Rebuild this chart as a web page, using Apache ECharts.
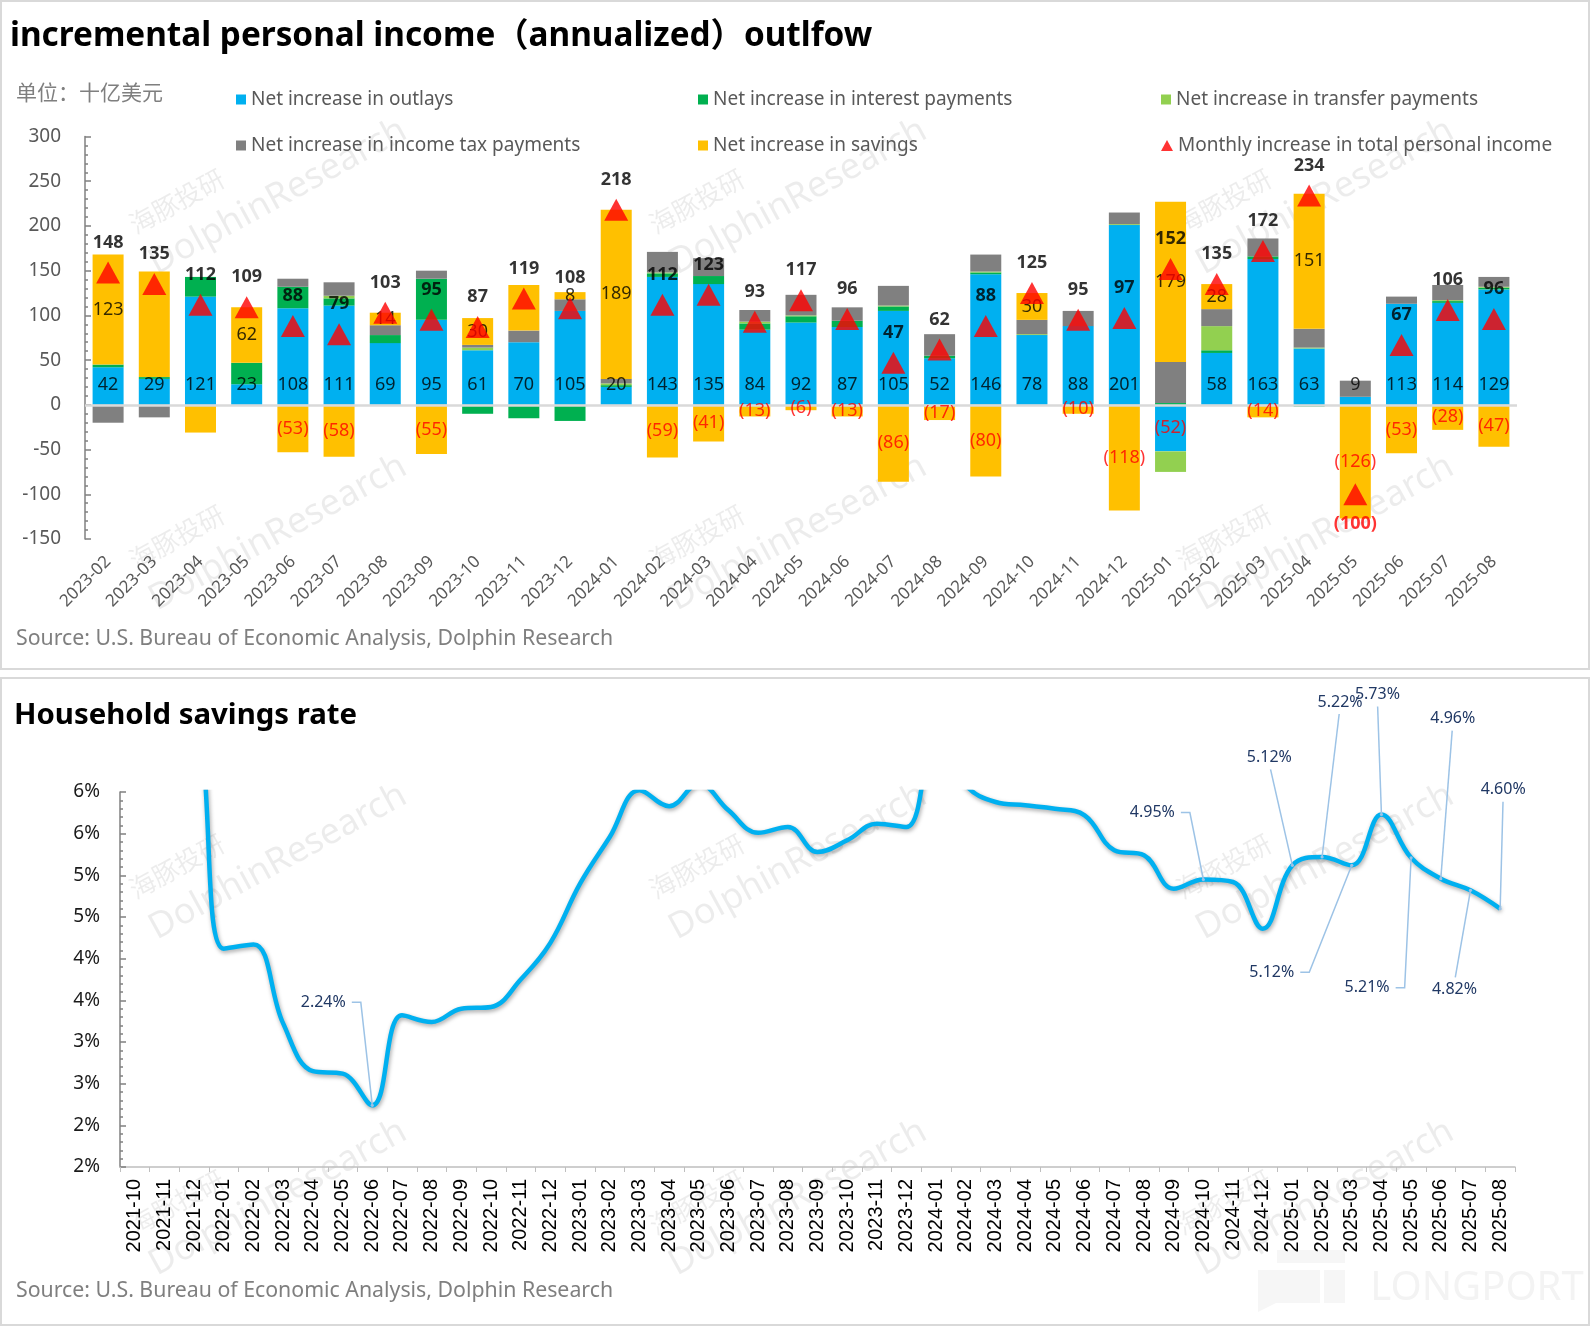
<!DOCTYPE html>
<html>
<head>
<meta charset="utf-8">
<script src="https://cdn.jsdelivr.net/npm/echarts@6.0.0/dist/echarts.min.js"></script>
<style>
html,body{margin:0;padding:0;background:#fff;}
#c{width:1591px;height:1327px;}
</style>
</head>
<body>
<div id="c"></div>
<script>
// ---------- Chart 1 data (billion USD, annualized) ----------
const months = ['2023-02','2023-03','2023-04','2023-05','2023-06','2023-07','2023-08','2023-09','2023-10','2023-11','2023-12',
  '2024-01','2024-02','2024-03','2024-04','2024-05','2024-06','2024-07','2024-08','2024-09','2024-10','2024-11','2024-12',
  '2025-01','2025-02','2025-03','2025-04','2025-05','2025-06','2025-07','2025-08'];
const outlays   = [42,29,121,23,108,111,69,95,61,70,105, 20,143,135,84,92,87,105,52,146,78,88,201, -52,58,163,63,9,113,114,129];
const interest  = [3,2,22,24,24,8,9,46,-10,-15,-18, 2,4,9,7,7,7,5,3,2,0,0,0, 2,3,3,-2,-1,-1,2,2];
const transfer  = [0,0,0,0,0,3,0,0,3,0,0, 2,1,0,2,1,0,1,0,1,1,0,1, -23,27,0,1,0,0,1,1];
const incomeTax = [-20,-14,-1,0,9,15,11,9,3,13,13, 5,23,20,13,23,15,22,24,19,16,17,13, 46,19,20,21,18,8,17,11];
const savings   = [123,118,-30,62,-53,-58,14,-55,30,51,8, 189,-59,-41,-13,-6,-13,-86,-17,-80,30,-10,-118, 179,28,-14,151,-126,-53,-28,-47];
const totalIncome = [148,135,112,109,88,79,103,95,87,119,108, 218,112,123,93,117,96,47,62,88,125,95,97, 152,135,172,234,-100,67,106,96];
const hiddenSavingsLabels = ['2023-03','2023-04','2023-11'];
const yTicks1 = [-150,-100,-50,0,50,100,150,200,250,300];

// ---------- Chart 2 data (household savings rate, %) ----------
const rateMonths = ['2021-10','2021-11','2021-12','2022-01','2022-02','2022-03','2022-04','2022-05','2022-06','2022-07','2022-08','2022-09','2022-10','2022-11','2022-12',
  '2023-01','2023-02','2023-03','2023-04','2023-05','2023-06','2023-07','2023-08','2023-09','2023-10','2023-11','2023-12',
  '2024-01','2024-02','2024-03','2024-04','2024-05','2024-06','2024-07','2024-08','2024-09','2024-10','2024-11','2024-12',
  '2025-01','2025-02','2025-03','2025-04','2025-05','2025-06','2025-07','2025-08'];
const savingsRate = [7.6,7.4,7.2,4.12,4.17,3.22,2.65,2.62,2.24,3.32,3.24,3.40,3.42,3.75,4.19,
  4.90,5.46,6.02,5.83,6.10,5.78,5.51,5.58,5.28,5.42,5.62,5.58,
  6.70,6.08,5.88,5.84,5.80,5.72,5.30,5.24,4.84,4.95,4.92,4.36,
  5.12,5.22,5.12,5.73,5.21,4.96,4.82,4.60];
const rateLabelMonths = ['2022-06','2024-10','2025-01','2025-02','2025-03','2025-04','2025-05','2025-06','2025-07','2025-08'];
const rateYTickLabels = ['2%','2%','3%','3%','4%','4%','5%','5%','6%','6%'];

// ---------- layout / style config ----------
const FONT = '"Noto Sans", "Noto Sans CJK SC", sans-serif';
const rateLabelOffsets = {
  '2022-06':[-49,-103], '2024-10':[-51,-67], '2025-01':[-23,-108], '2025-02':[18,-155],
  '2025-03':[-80,107], '2025-04':[-4,-120], '2025-05':[-44,130], '2025-06':[12,-160],
  '2025-07':[-16,99], '2025-08':[3,-119]
};
const sideLeaders = ['2022-06','2024-10','2025-03','2025-05'];
const paren = v => (v < 0 ? '(' + (-v) + ')' : String(v));

// label anchor points derived from the stacked data (centre of a segment)
const stackParts = i => [outlays[i], interest[i], transfer[i], incomeTax[i]];
const savingsLabelData = [];
savings.forEach((v, i) => {
  if (hiddenSavingsLabels.indexOf(months[i]) >= 0) return;
  const base = stackParts(i).filter(p => (v < 0 ? p < 0 : p > 0)).reduce((a, b) => a + b, 0);
  savingsLabelData.push({value:[months[i], base + v / 2, v], label:{color: v < 0 ? '#ff0000' : '#000'}});
});
const outlayLabelData = outlays.map((v, i) => v < 0
  ? {value:[months[i], v / 2, v], label:{color:'#ff0000', offset:[0, 0]}}
  : {value:[months[i], 0, v]});

// text measuring for leader lines
const measureCtx = document.createElement('canvas').getContext('2d');
measureCtx.font = '16px "Noto Sans"';
const LABEL_H = 20;

function renderRateLabel(params, api) {
  const m = rateLabelMonths[params.dataIndex];
  const o = rateLabelOffsets[m];
  const pt = api.coord([api.value(0), api.value(1)]);
  const text = api.value(1).toFixed(2) + '%';
  const w = measureCtx.measureText(text).width;
  const cx = pt[0] + o[0], cy = pt[1] + o[1];
  let pts;
  if (sideLeaders.indexOf(m) >= 0) {
    pts = [[cx + w / 2 + 6, cy], [cx + w / 2 + 15, cy], pt];
  } else {
    const above = cy < pt[1];
    pts = [[cx + (pt[0] - cx) * 0.05, above ? cy + LABEL_H / 2 + 2 : cy - LABEL_H / 2 - 2], pt];
  }
  return {
    type:'group',
    children:[
      {type:'polyline', shape:{points:pts}, style:{stroke:'#9dc3e6', lineWidth:1.5, fill:null}},
      {type:'circle', shape:{cx:pt[0], cy:pt[1], r:1.6}, style:{fill:'#9dc3e6'}},
      {type:'text', style:{text:text, x:cx, y:cy, align:'center', verticalAlign:'middle',
        fontFamily:FONT, fontSize:16, fill:'#203864'}}
    ]
  };
}

const chart = echarts.init(document.getElementById('c'), null, {renderer:'canvas', width:1591, height:1327});

const barBase = {type:'bar', stack:'total', xAxisIndex:0, yAxisIndex:0, barWidth:31, z:2};

const legendItems = [
  ['Net increase in outlays', 236, 90, 'rect'],
  ['Net increase in interest payments', 698, 90, 'rect'],
  ['Net increase in transfer payments', 1161, 90, 'rect'],
  ['Net increase in income tax payments', 236, 136, 'rect'],
  ['Net increase in savings', 698, 136, 'rect'],
  ['Monthly increase in total personal income', 1161, 136, 'triangle']
];
const legends = legendItems.map(it => ({
  data:[it[0]], left:it[1], top:it[2], orient:'horizontal', selectedMode:false,
  icon:it[3], itemWidth: it[3]==='triangle'?12:10, itemHeight: it[3]==='triangle'?11:10, itemGap:0, padding:0,
  textStyle:{fontFamily:FONT, fontSize:19, color:'#595959'}
}));

// watermarks
const wmCenters = [[278,197],[798,197],[1325,197],[278,533],[798,533],[1325,533],
                   [278,862],[798,862],[1325,862],[278,1198],[798,1198],[1325,1198]];
const wmGraphics = wmCenters.map(c => ({
  type:'group', x:c[0], y:c[1], rotation:0.5, z:-10, silent:true,
  children:[
    {type:'text', style:{text:'DolphinResearch', x:0, y:0, align:'center', verticalAlign:'middle', fontFamily:FONT, fontSize:36, fill:'rgba(0,0,0,0.075)'}},
    {type:'text', style:{text:'海豚投研', x:-91, y:-45, align:'center', verticalAlign:'middle', fontFamily:'"Noto Sans CJK SC"', fontSize:26, fill:'rgba(0,0,0,0.075)'}}
  ]
}));
const logoGraphics = [
  {type:'rect', z:-10, silent:true, shape:{x:1277, y:1250, width:68, height:13}, style:{fill:'#f6f6f6'}},
  {type:'rect', z:-10, silent:true, shape:{x:1258, y:1270, width:62, height:33}, style:{fill:'#f6f6f6'}},
  {type:'rect', z:-10, silent:true, shape:{x:1324, y:1270, width:21, height:33}, style:{fill:'#f6f6f6'}},
  {type:'polygon', z:-10, silent:true, shape:{points:[[1258,1303],[1276,1303],[1258,1312]]}, style:{fill:'#f6f6f6'}},
  {type:'text', z:-10, silent:true, style:{text:'LONGPORT', x:1477, y:1289, align:'center', verticalAlign:'middle', fontFamily:FONT, fontSize:40, fill:'#f3f3f3'}}
];

const option = {
  backgroundColor:'#fff',
  animation:false,
  legend: legends,
  graphic: [
    {type:'rect', shape:{x:1, y:1, width:1588, height:668}, style:{fill:'none', stroke:'#d9d9d9', lineWidth:2}, silent:true},
    {type:'rect', shape:{x:1, y:678, width:1588, height:647}, style:{fill:'none', stroke:'#d9d9d9', lineWidth:2}, silent:true},
    {type:'text', style:{text:'incremental personal income（annualized）outlfow', x:10, y:37, verticalAlign:'middle', fontFamily:FONT, fontWeight:'bold', fontSize:33.3, fill:'#000'}},
    {type:'text', style:{text:'单位：十亿美元', x:16, y:92, verticalAlign:'middle', fontFamily:'"Noto Sans CJK SC"', fontSize:21, fill:'#7f7f7f'}},
    {type:'text', style:{text:'Source: U.S. Bureau of Economic Analysis, Dolphin Research', x:16, y:639, verticalAlign:'middle', fontFamily:FONT, fontSize:21.3, fill:'#7f7f7f'}},
    {type:'text', style:{text:'Household savings rate', x:14, y:716, verticalAlign:'middle', fontFamily:FONT, fontWeight:'bold', fontSize:29.4, fill:'#000'}},
    {type:'text', style:{text:'Source: U.S. Bureau of Economic Analysis, Dolphin Research', x:16, y:1291, verticalAlign:'middle', fontFamily:FONT, fontSize:21.3, fill:'#7f7f7f'}}
  ].concat(logoGraphics, wmGraphics),
  grid: [
    {left:85, top:136.5, width:1432, height:402.5, containLabel:false},
    {left:120, top:792, width:1395, height:375, containLabel:false}
  ],
  xAxis: [
    {type:'category', gridIndex:0, data:months, position:'bottom',
     axisLine:{show:false, onZero:false}, axisTick:{show:false},
     axisLabel:{interval:0, rotate:45, margin:20, fontFamily:FONT, fontSize:17, color:'#595959'}},
    {type:'category', gridIndex:1, data:rateMonths, position:'bottom',
     axisLine:{show:true, onZero:false, lineStyle:{color:'#bfbfbf', width:1.5}},
     axisTick:{show:true, length:5, lineStyle:{color:'#bfbfbf'}},
     axisLabel:{interval:0, rotate:90, margin:12, fontFamily:'"Liberation Sans", Arial, sans-serif', fontSize:20, color:'#000'}}
  ],
  yAxis: [
    {type:'value', gridIndex:0, min:yTicks1[0], max:yTicks1[yTicks1.length-1], interval:50,
     axisLine:{show:true, lineStyle:{color:'#808080', width:1.5}},
     axisTick:{show:true, inside:true, length:6, lineStyle:{color:'#808080', width:1.5}},
     minorTick:{show:true, splitNumber:5, length:3, lineStyle:{color:'#808080', width:1.5}},
     splitLine:{show:false},
     axisLabel:{margin:24, fontFamily:FONT, fontSize:19, color:'#595959'}},
    {type:'value', gridIndex:1, min:1.5, max:6.0, interval:0.5,
     axisLine:{show:true, lineStyle:{color:'#808080', width:1.5}},
     axisTick:{show:true, inside:true, length:6, lineStyle:{color:'#808080', width:1.5}},
     minorTick:{show:true, splitNumber:5, length:3, lineStyle:{color:'#808080', width:1.5}},
     splitLine:{show:false},
     axisLabel:{margin:20, fontFamily:FONT, fontSize:19, color:'#1a1a1a',
       formatter: v => rateYTickLabels[Math.round((v - 1.5) / 0.5)]}}
  ],
  series: [
    Object.assign({}, barBase, {name:'Net increase in outlays', itemStyle:{color:'#00b0f0'}, data:outlays,
      markLine:{silent:true, z:3, symbol:'none', label:{show:false}, lineStyle:{color:'#d9d9d9', width:2.5, type:'solid'}, data:[{yAxis:0}]}}),
    Object.assign({}, barBase, {name:'Net increase in interest payments', itemStyle:{color:'#00b050'}, data:interest}),
    Object.assign({}, barBase, {name:'Net increase in transfer payments', itemStyle:{color:'#92d050'}, data:transfer}),
    Object.assign({}, barBase, {name:'Net increase in income tax payments', itemStyle:{color:'#808080'}, data:incomeTax}),
    Object.assign({}, barBase, {name:'Net increase in savings', itemStyle:{color:'#ffc000'}, data:savings}),
    {
      type:'scatter', name:'outlay labels', xAxisIndex:0, yAxisIndex:0, z:4, silent:true,
      symbol:'circle', symbolSize:1, itemStyle:{color:'rgba(0,0,0,0)'},
      data: outlayLabelData,
      label:{show:true, position:'inside', offset:[0,-20], fontFamily:FONT, fontSize:18, color:'#000', formatter:p => paren(p.value[2])}
    },
    {
      type:'scatter', name:'savings labels', xAxisIndex:0, yAxisIndex:0, z:4, silent:true,
      symbol:'circle', symbolSize:1, itemStyle:{color:'rgba(0,0,0,0)'},
      data: savingsLabelData,
      label:{show:true, position:'inside', fontFamily:FONT, fontSize:18, formatter:p => paren(p.value[2])}
    },
    {
      type:'scatter', name:'Monthly increase in total personal income', xAxisIndex:0, yAxisIndex:0, z:5,
      symbol:'triangle', symbolSize:[24,22], itemStyle:{color:'#ff0000'},
      data: totalIncome.map(v => v < 0 ? {value:v, label:{position:'bottom', color:'#ff0000'}} : {value:v}),
      label:{show:true, position:'top', distance:10, fontFamily:FONT, fontWeight:'bold', fontSize:18, color:'#000', formatter:p => paren(p.value)}
    },
    {
      type:'line', name:'Household savings rate', xAxisIndex:1, yAxisIndex:1,
      data:savingsRate, smooth:0.4, showSymbol:false, clip:true,
      lineStyle:{color:'#00b0f0', width:4.5, shadowColor:'rgba(0,0,0,0.35)', shadowBlur:4, shadowOffsetX:1, shadowOffsetY:2}
    },
    {
      type:'custom', name:'rate labels', xAxisIndex:1, yAxisIndex:1, z:6, silent:true, clip:false,
      data: rateLabelMonths.map(m => [m, savingsRate[rateMonths.indexOf(m)]]),
      renderItem: renderRateLabel
    }
  ]
};
chart.setOption(option);
</script>
</body>
</html>
